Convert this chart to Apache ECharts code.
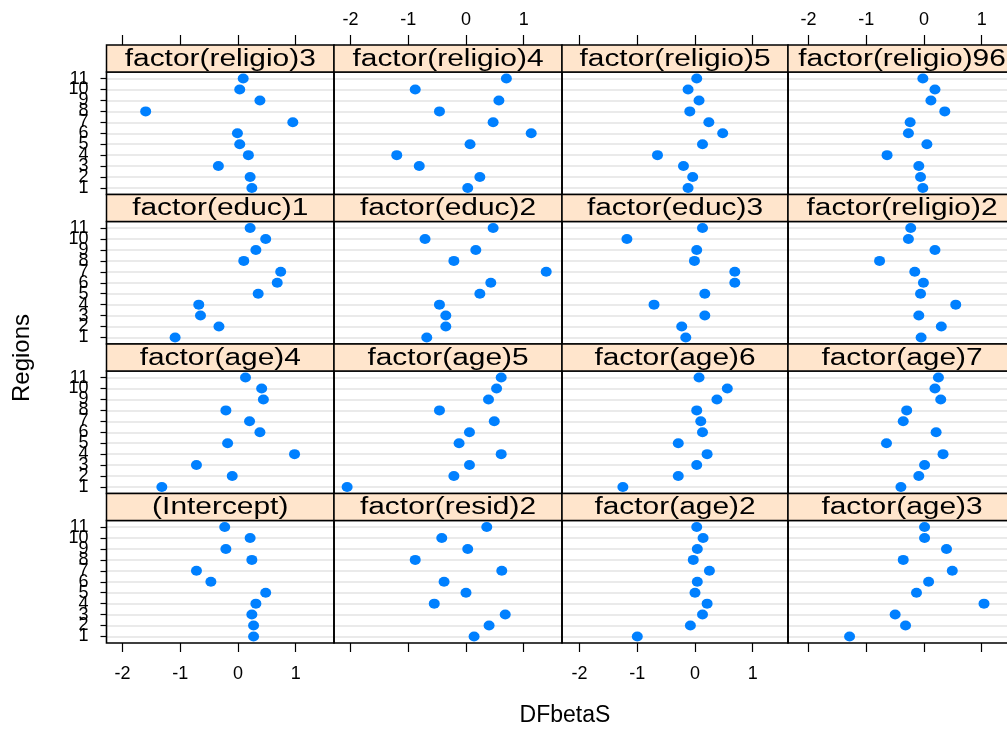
<!DOCTYPE html>
<html><head><meta charset="utf-8">
<script src="https://cdn.jsdelivr.net/npm/echarts@6/dist/echarts.min.js"></script>
<style>html,body{margin:0;padding:0;background:#fff}#c{width:1007px;height:733px}</style>
</head><body><div id="c"></div>
<script>
// ---------- data ----------
const regions = [1, 2, 3, 4, 5, 6, 7, 8, 9, 10, 11];
const xTicks = [-2, -1, 0, 1];
const panelTitles = [
  'factor(religio)3', 'factor(religio)4', 'factor(religio)5', 'factor(religio)96',
  'factor(educ)1', 'factor(educ)2', 'factor(educ)3', 'factor(religio)2',
  'factor(age)4', 'factor(age)5', 'factor(age)6', 'factor(age)7',
  '(Intercept)', 'factor(resid)2', 'factor(age)2', 'factor(age)3'
];
// values for regions 1..11
const religio3  = [0.24, 0.21, -0.34, 0.18, 0.03, -0.01, 0.95, -1.60, 0.38, 0.03, 0.09];
const religio4  = [0.03, 0.24, -0.81, -1.20, 0.07, 1.13, 0.47, -0.46, 0.57, -0.88, 0.70];
const religio5  = [-0.12, -0.04, -0.20, -0.65, 0.13, 0.48, 0.24, -0.09, 0.07, -0.12, 0.03];
const religio96 = [-0.02, -0.06, -0.09, -0.64, 0.05, -0.27, -0.24, 0.36, 0.12, 0.19, -0.02];
const educ1     = [-1.09, -0.33, -0.65, -0.68, 0.35, 0.68, 0.74, 0.10, 0.31, 0.48, 0.21];
const educ2     = [-0.68, -0.35, -0.35, -0.46, 0.24, 0.43, 1.39, -0.21, 0.17, -0.71, 0.47];
const educ3     = [-0.16, -0.23, 0.17, -0.71, 0.17, 0.69, 0.69, -0.01, 0.03, -1.18, 0.13];
const religio2  = [-0.05, 0.30, -0.09, 0.55, -0.06, -0.01, -0.16, -0.77, 0.19, -0.27, -0.23];
const age4      = [-1.32, -0.10, -0.72, 0.98, -0.18, 0.38, 0.20, -0.21, 0.44, 0.41, 0.13];
const age5      = [-2.06, -0.21, 0.06, 0.61, -0.12, 0.06, 0.49, -0.46, 0.39, 0.53, 0.61];
const age6      = [-1.25, -0.29, 0.03, 0.21, -0.29, 0.13, 0.10, 0.03, 0.38, 0.56, 0.07];
const age7      = [-0.40, -0.09, 0.01, 0.33, -0.65, 0.21, -0.36, -0.30, 0.29, 0.19, 0.25];
const intercept = [0.27, 0.27, 0.24, 0.31, 0.48, -0.47, -0.72, 0.24, -0.21, 0.21, -0.23];
const resid2    = [0.14, 0.40, 0.68, -0.55, 0.00, -0.38, 0.62, -0.88, 0.03, -0.42, 0.36];
const age2      = [-1.00, -0.08, 0.13, 0.21, 0.00, 0.04, 0.25, -0.03, 0.04, 0.14, 0.03];
const age3      = [-1.29, -0.32, -0.50, 1.04, -0.13, 0.08, 0.49, -0.36, 0.39, 0.01, 0.01];
const panelValues = [religio3, religio4, religio5, religio96, educ1, educ2, educ3, religio2,
                     age4, age5, age6, age7, intercept, resid2, age2, age3];
const xTitle = 'DFbetaS';
const yTitle = 'Regions';

// ---------- layout ----------
const colLeft = [106.5, 334, 562, 788];
const colWidth = [227.5, 228, 226, 228];
const colZero = [238, 466, 695, 924];
const unit = 57.7;
const stripTop = [45, 194.5, 344, 493.5];
const stripH = 27, panelH = 122.5;
const tickFont = "'Liberation Sans Narrow','Liberation Sans',Arial,sans-serif";
const mainFont = "'Liberation Sans',Arial,sans-serif";

// labels split into two interleaved sets so that ECharts does not drop overlapping neighbours
const oddRegions = regions.filter((v, k) => k % 2 === 0);
const evenRegions = regions.filter((v, k) => k % 2 === 1);

const grids = [], xAxes = [], yAxes = [], series = [], graphics = [];
function yAxisDef(i, c, vals) {
  return {
    gridIndex: i, type: 'value', min: 0.4, max: 11.6, position: 'left',
    axisLine: { show: false, onZero: false },
    axisTick: { show: c === 0, length: 6, customValues: vals, lineStyle: { color: '#000', width: 1.2 } },
    axisLabel: { show: c === 0, customValues: vals, margin: 18, fontSize: 18,
      hideOverlap: false, fontFamily: tickFont, color: '#000' },
    splitLine: { show: false }
  };
}
for (let i = 0; i < 16; i++) {
  const r = Math.floor(i / 4), c = i % 4;
  const xmin = -(colZero[c] - colLeft[c]) / unit;
  const xmax = xmin + colWidth[c] / unit;
  grids.push({
    left: colLeft[c], top: stripTop[r] + stripH, width: colWidth[c], height: panelH,
    show: false, containLabel: false, outerBoundsMode: 'none'
  });
  xAxes.push({
    gridIndex: i, type: 'value', min: xmin, max: xmax, position: 'bottom',
    axisLine: { show: false, onZero: false },
    axisTick: { show: r === 3, length: 9, customValues: xTicks, lineStyle: { color: '#000', width: 1.2 } },
    axisLabel: { show: r === 3 && (c === 0 || c === 2), customValues: xTicks, margin: 22,
      showMinLabel: true, showMaxLabel: true,
      fontSize: 18, fontFamily: tickFont, color: '#000' },
    splitLine: { show: false }
  });
  yAxes.push(yAxisDef(i, c, oddRegions));
  series.push({
    type: 'line', xAxisIndex: i, yAxisIndex: 2 * i, data: [], z: 1, silent: true, animation: false,
    markLine: {
      silent: true, symbol: 'none', animation: false, label: { show: false },
      lineStyle: { color: '#e3e3e3', width: 1.7, type: 'solid' },
      emphasis: { disabled: true },
      data: regions.map(v => ({ yAxis: v }))
    }
  });
  series.push({
    type: 'scatter', xAxisIndex: i, yAxisIndex: 2 * i, z: 5, animation: false,
    symbol: 'circle', symbolSize: [11, 10],
    itemStyle: { color: '#0080ff', opacity: 1 },
    data: panelValues[i].map((v, k) => [v, regions[k]])
  });
  yAxes.push(yAxisDef(i, c, evenRegions));
  // panel frame on top of grid lines
  graphics.push({
    type: 'rect', silent: true, z: 9,
    shape: { x: colLeft[c], y: stripTop[r] + stripH, width: colWidth[c], height: panelH },
    style: { fill: 'none', stroke: '#000', lineWidth: 1.6 }
  });
  // strip
  graphics.push({
    type: 'rect', silent: true, z: 10,
    shape: { x: colLeft[c], y: stripTop[r], width: colWidth[c], height: stripH },
    style: { fill: '#ffe5cc', stroke: '#000', lineWidth: 1.5 }
  });
  graphics.push({
    type: 'text', silent: true, z: 11,
    x: colLeft[c] + colWidth[c] / 2, y: stripTop[r] + stripH / 2 + 1, scaleX: 1.3,
    style: { text: panelTitles[i], fontSize: 23, fontFamily: mainFont, fill: '#000',
      align: 'center', verticalAlign: 'middle' }
  });
}
// top axes for first row
for (let c = 0; c < 4; c++) {
  const xmin = -(colZero[c] - colLeft[c]) / unit;
  const xmax = xmin + colWidth[c] / unit;
  xAxes.push({
    gridIndex: c, type: 'value', min: xmin, max: xmax, position: 'top', offset: stripH,
    axisLine: { show: false, onZero: false },
    axisTick: { show: true, length: 10, customValues: xTicks, lineStyle: { color: '#000', width: 1.2 } },
    axisLabel: { show: c === 1 || c === 3, customValues: xTicks, margin: 16,
      showMinLabel: true, showMaxLabel: true,
      fontSize: 18, fontFamily: tickFont, color: '#000' },
    splitLine: { show: false }
  });
}
graphics.push({
  type: 'text', silent: true, x: 22, y: 358, rotation: Math.PI / 2,
  style: { text: yTitle, fontSize: 24, fontFamily: tickFont, fill: '#000', align: 'center', verticalAlign: 'middle' }
});
graphics.push({
  type: 'text', silent: true, x: 565, y: 716,
  style: { text: xTitle, fontSize: 23, fontFamily: tickFont, fill: '#000', align: 'center', verticalAlign: 'middle' }
});

const chart = echarts.init(document.getElementById('c'), null, { renderer: 'canvas' });
chart.setOption({
  backgroundColor: '#fff',
  animation: false,
  grid: grids, xAxis: xAxes, yAxis: yAxes, series: series, graphic: graphics
});
</script></body></html>
